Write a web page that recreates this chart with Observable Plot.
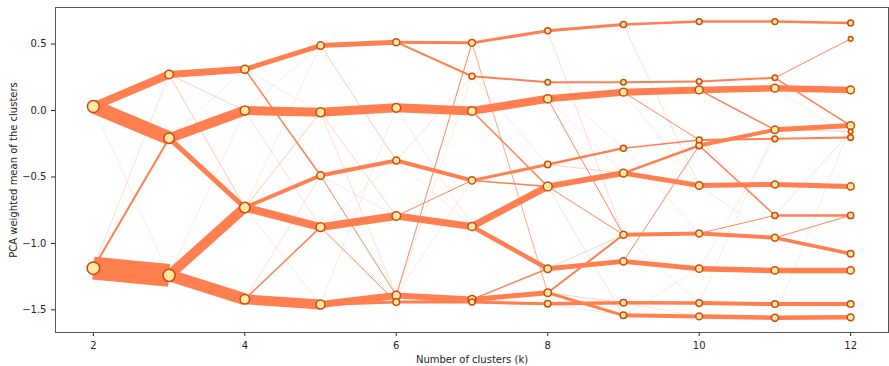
<!DOCTYPE html>
<html>
<head>
<meta charset="utf-8">
<script src="https://cdn.jsdelivr.net/npm/d3@7"></script>
<script src="https://cdn.jsdelivr.net/npm/@observablehq/plot@0.6"></script>
<style>
  html, body { margin: 0; padding: 0; background: #fff; }
  #chart svg { display: block; }
</style>
</head>
<body>
<div id="chart"></div>
<script>
// ---- Data ----
const kValues = [2, 3, 4, 5, 6, 7, 8, 9, 10, 11, 12];
const xTicks = [2, 4, 6, 8, 10, 12];
const yTicks = [-1.5, -1.0, -0.5, 0.0, 0.5];

// PCA weighted mean of each cluster, per k (top to bottom)
const means2  = [0.03, -1.186];
const means3  = [0.271, -0.208, -1.24];
const means4  = [0.31, 0.0, -0.73, -1.42];
const means5  = [0.489, -0.013, -0.489, -0.877, -1.459];
const means6  = [0.514, 0.02, -0.376, -0.794, -1.391, -1.441];
const means7  = [0.509, 0.258, -0.003, -0.526, -0.872, -1.421, -1.441];
const means8  = [0.60, 0.213, 0.088, -0.406, -0.571, -1.19, -1.371, -1.454];
const means9  = [0.647, 0.213, 0.138, -0.283, -0.471, -0.935, -1.135, -1.446, -1.541];
const means10 = [0.669, 0.218, 0.155, -0.221, -0.263, -0.564, -0.925, -1.19, -1.449, -1.549];
const means11 = [0.669, 0.246, 0.168, -0.145, -0.213, -0.556, -0.789, -0.957, -1.203, -1.456, -1.559];
const means12 = [0.659, 0.539, 0.155, -0.113, -0.158, -0.203, -0.571, -0.789, -1.078, -1.203, -1.456, -1.556];

// Observations moving between clusters: [from cluster at k, to cluster at k+1, share]
const edges2to3 = [[0,0,8],[0,1,14],[0,2,0.3],[1,2,23],[1,1,2],[1,0,0.4]];
const edges3to4 = [[0,0,7],[0,1,0.5],[0,2,0.6],[1,1,10],[1,2,5],[1,0,0.3],[2,2,10],[2,3,12],[2,1,0.3]];
const edges4to5 = [[0,0,5],[0,2,1.5],[0,1,0.3],[1,1,9],[1,3,0.4],[1,0,0.3],[2,2,4],[2,3,8],[2,1,0.6],[2,0,0.3],[2,4,0.3],[3,4,10],[3,3,1.5],[3,2,0.4]];
const edges5to6 = [[0,0,5],[0,2,0.6],[1,1,9],[1,3,0.5],[1,4,0.4],[2,2,4],[2,4,1],[2,3,0.3],[3,3,8],[3,5,1],[3,2,0.3],[4,4,7],[4,5,3],[4,1,0.3]];
const edges6to7 = [[0,0,3],[0,1,2],[1,2,9],[1,4,0.3],[2,3,4],[2,1,0.4],[2,4,0.3],[3,4,7],[3,3,1],[4,5,6],[4,0,1],[4,3,0.3],[4,1,0.3],[5,6,3],[5,5,0.8]];
const edges7to8 = [[0,0,3],[0,6,0.8],[1,1,2],[1,3,0.3],[2,2,8],[2,4,1.5],[3,3,3],[3,4,1.5],[4,4,7],[4,5,4.5],[5,6,5],[5,5,1.5],[5,7,0.5],[6,7,3]];
const edges8to9 = [[0,0,3],[0,5,0.4],[1,1,2],[1,3,0.3],[2,2,7],[2,5,1],[2,4,0.3],[3,3,2.5],[3,4,0.5],[4,4,6],[4,5,1],[4,8,0.4],[5,6,5],[5,5,0.5],[6,5,2],[6,8,3],[6,7,0.5],[7,7,3.5],[7,8,0.3]];
const edges9to10 = [[0,0,2.5],[0,5,0.4],[1,1,2],[2,2,7],[2,3,1],[2,5,0.3],[3,3,1.5],[3,6,0.3],[4,4,2.5],[4,5,5],[5,6,4],[5,8,0.3],[6,7,5],[6,4,1],[7,8,3.5],[7,9,0.3],[8,9,4],[8,7,0.3]];
const edges10to11 = [[0,0,2.5],[1,1,2],[2,2,6.5],[2,3,1.5],[3,4,2],[3,6,0.3],[4,3,4],[4,6,1.5],[5,5,5],[5,7,0.3],[6,7,4],[6,6,1],[7,8,5.5],[7,4,0.3],[8,9,4],[8,3,0.3],[9,10,4.5]];
const edges11to12 = [[0,0,2.5],[1,1,1],[1,3,1.5],[2,2,6.5],[2,5,0.3],[3,3,5],[3,4,0.5],[4,5,2],[5,6,5],[6,7,2.5],[6,4,0.4],[7,8,3.5],[7,7,1],[8,9,5.5],[9,10,4],[10,11,4.5],[10,3,0.3]];

// ---- Build tables for Plot ----
const meansByK = [means2, means3, means4, means5, means6, means7, means8, means9, means10, means11, means12];
const edgesByK = [edges2to3, edges3to4, edges4to5, edges5to6, edges6to7, edges7to8, edges8to9, edges9to10, edges10to11, edges11to12];

const nodes = [];
meansByK.forEach((ms, i) => {
  const k = kValues[i];
  ms.forEach((m, j) => {
    let size = 0;
    if (i === 0) edgesByK[0].forEach(([a, b, w]) => { if (a === j) size += w; });
    else edgesByK[i - 1].forEach(([a, b, w]) => { if (b === j) size += w; });
    nodes.push({k, mean: m, size});
  });
});

const links = [];
edgesByK.forEach((es, i) => {
  es.forEach(([a, b, w]) => links.push({
    k0: kValues[i], k1: kValues[i + 1],
    m0: meansByK[i][a], m1: meansByK[i + 1][b], w
  }));
});
links.sort((p, q) => p.w - q.w);

const lineWidthPerShare = 1.0;

const chart = Plot.plot({
  width: 889,
  height: 366,
  marginTop: 7,
  marginBottom: 34,
  marginLeft: 55,
  marginRight: 1,
  style: {fontFamily: "'DejaVu Sans', sans-serif", fontSize: "10px", color: "#262626", background: "#fff"},
  x: {domain: [1.5, 12.5], ticks: xTicks, tickFormat: d => String(d), tickSize: 4,
      label: "Number of clusters (k)", labelAnchor: "center", labelOffset: 30, labelArrow: "none"},
  y: {domain: [-1.67, 0.775], ticks: yTicks, tickFormat: d3.format(".1f"), tickSize: 4,
      label: "PCA weighted mean of the clusters", labelAnchor: "center", labelOffset: 46, labelArrow: "none"},
  r: {type: "sqrt", domain: [0, 25], range: [1.4, 6.2]},
  marks: [
    Plot.link(links, {x1: "k0", y1: "m0", x2: "k1", y2: "m1",
      stroke: "#ff7f50", strokeWidth: d => d.w * lineWidthPerShare,
      strokeOpacity: d => Math.min(1, 0.45 + d.w * 0.5), strokeLinecap: "butt"}),
    Plot.dot(nodes, {x: "k", y: "mean", r: "size", fill: "#ffe9a3", stroke: "#cf4a0c", strokeWidth: 1.5}),
    Plot.frame({stroke: "#555"})
  ]
});
document.getElementById("chart").appendChild(chart);
</script>
</body>
</html>
